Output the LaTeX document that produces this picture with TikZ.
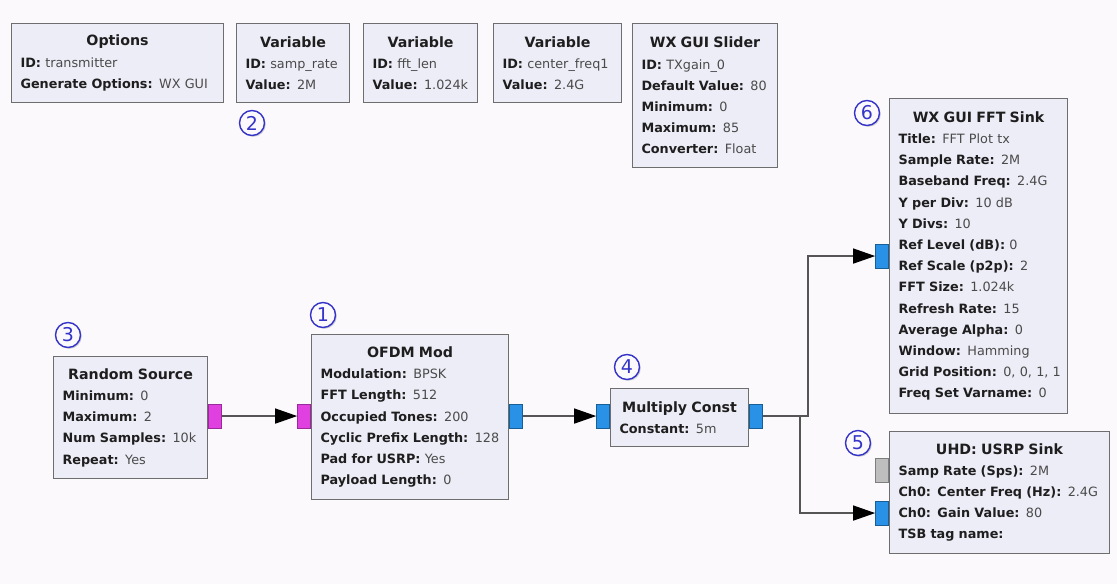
\documentclass[tikz,border=0pt]{standalone}
\usepackage{fontspec}
\setmainfont{DejaVu Sans}
\usetikzlibrary{arrows.meta,shadows}

\definecolor{canvas}{HTML}{FCF9FC}
\definecolor{blockfill}{HTML}{EDEDF8}
\definecolor{blockline}{HTML}{6E6E6E}
\definecolor{keyink}{HTML}{1E1E1E}
\definecolor{valink}{HTML}{4A4A4A}
\definecolor{wireink}{HTML}{555555}
\definecolor{bytefill}{HTML}{E040E0}
\definecolor{byteline}{HTML}{9A2A9A}
\definecolor{cplxfill}{HTML}{2A92E6}
\definecolor{cplxline}{HTML}{1A5E96}
\definecolor{msgfill}{HTML}{BEBEBE}
\definecolor{msgline}{HTML}{7E7E7E}
\definecolor{tagblue}{HTML}{3434C8}

% block title and key/value rows
\newcommand\blocktitle[1]{\makebox[\linewidth][c]{\fontsize{14.2}{21.2}\selectfont\bfseries\color{keyink}#1}}
\newcommand\param[2]{\mbox{{\bfseries\color{keyink}#1} {\color{valink}#2}}}

\tikzset{
  block/.style={draw=blockline, fill=blockfill, line width=1.1pt, anchor=north west,
    inner xsep=9pt, inner ysep=0pt, align=left, font=\fontsize{12.8}{21.2}\selectfont},
  port/.style={minimum width=13pt, minimum height=24pt, inner sep=0pt, line width=0.8pt},
  byteport/.style={port, fill=bytefill, draw=byteline},
  cplxport/.style={port, fill=cplxfill, draw=cplxline},
  msgport/.style={port, fill=msgfill, draw=msgline},
  wire/.style={draw=wireink, line width=1.3pt,
    -{Triangle[length=22pt,width=15pt,color=black]}},
  tag/.style={circle, draw=tagblue, line width=1.4pt, fill=canvas, text=tagblue,
    minimum size=25pt, inner sep=0pt, font=\fontsize{19}{19}\selectfont,
    drop shadow={shadow xshift=1.3pt, shadow yshift=-1.3pt, opacity=0.35, fill=gray}},
}

\begin{document}
\begin{tikzpicture}[x=1pt, y=-1pt]
\fill[canvas] (0,0) rectangle (1117,584);
\useasboundingbox (0,0) rectangle (1117,584);

% variable blocks along the top
\node[block, text width=194pt, minimum height=79pt] (opt) at (11,23)
  {\blocktitle{Options}\\ \param{ID:}{transmitter}\\ \param{Generate Options:}{WX GUI}};
\node[block, text width=95pt, minimum height=79pt] (vrate) at (236,23)
  {\blocktitle{Variable}\\ \param{ID:}{samp\_rate}\\ \param{Value:}{2M}};
\node[block, text width=96pt, minimum height=79pt] (vfft) at (363,23)
  {\blocktitle{Variable}\\ \param{ID:}{fft\_len}\\ \param{Value:}{1.024k}};
\node[block, text width=110pt, minimum height=79pt] (vfreq) at (493,23)
  {\blocktitle{Variable}\\ \param{ID:}{center\_freq1}\\ \param{Value:}{2.4G}};
\node[block, text width=127pt, minimum height=144pt] (slider) at (632,23)
  {\blocktitle{WX GUI Slider}\\ \param{ID:}{TXgain\_0}\\ \param{Default Value:}{80}\\
   \param{Minimum:}{0}\\ \param{Maximum:}{85}\\ \param{Converter:}{Float}};

% signal chain
\node[block, text width=136pt, minimum height=122pt] (rs) at (53,356)
  {\blocktitle{Random Source}\\ \param{Minimum:}{0}\\ \param{Maximum:}{2}\\
   \param{Num Samples:}{10k}\\ \param{Repeat:}{Yes}};
\node[block, text width=179pt, minimum height=165pt] (ofdm) at (311,334)
  {\blocktitle{OFDM Mod}\\ \param{Modulation:}{BPSK}\\ \param{FFT Length:}{512}\\
   \param{Occupied Tones:}{200}\\ \param{Cyclic Prefix Length:}{128}\\
   \param{Pad for USRP:}{Yes}\\ \param{Payload Length:}{0}};
\node[block, text width=120pt, minimum height=58pt] (mult) at (610,388)
  {\blocktitle{Multiply Const}\\ \param{Constant:}{5m}};
\node[block, text width=160pt, minimum height=315pt] (fft) at (889,98)
  {\blocktitle{WX GUI FFT Sink}\\ \param{Title:}{FFT Plot tx}\\ \param{Sample Rate:}{2M}\\
   \param{Baseband Freq:}{2.4G}\\ \param{Y per Div:}{10 dB}\\ \param{Y Divs:}{10}\\
   \param{Ref Level (dB):}{0}\\ \param{Ref Scale (p2p):}{2}\\ \param{FFT Size:}{1.024k}\\
   \param{Refresh Rate:}{15}\\ \param{Average Alpha:}{0}\\ \param{Window:}{Hamming}\\
   \param{Grid Position:}{0, 0, 1, 1}\\ \param{Freq Set Varname:}{0}};
\node[block, text width=202pt, minimum height=122pt] (usrp) at (889,431)
  {\blocktitle{UHD: USRP Sink}\\ \param{Samp Rate (Sps):}{2M}\\
   \param{Ch0: Center Freq (Hz):}{2.4G}\\ \param{Ch0: Gain Value:}{80}\\
   \param{TSB tag name:}{}};

% ports (the stream ports of the chain share one row)
\node[byteport, anchor=west] (rs-out) at ([yshift=1.5pt]rs.east) {};
\node[byteport, anchor=east] (ofdm-in) at (ofdm.west |- rs-out.east) {};
\node[cplxport, anchor=west] (ofdm-out) at (ofdm.east |- rs-out.east) {};
\node[cplxport, anchor=east] (mult-in) at (mult.west |- rs-out.east) {};
\node[cplxport, anchor=west] (mult-out) at (mult.east |- rs-out.east) {};
\node[cplxport, anchor=east] (fft-in) at (fft.west) {};
\node[msgport, anchor=east] (usrp-cmd) at ([yshift=22pt]usrp.west) {};
\node[cplxport, anchor=east] (usrp-in) at ([yshift=-20.5pt]usrp.west) {};

% connections
\path (mult-out.east) ++(45,0) coordinate (bendfft);
\path (mult-out.east) ++(37,0) coordinate (bendusrp);
\draw[wire] (rs-out.east) -- (ofdm-in.west);
\draw[wire] (ofdm-out.east) -- (mult-in.west);
\draw[wire] (mult-out.east) -- (bendfft) |- (fft-in.west);
\draw[wire] (mult-out.east) -- (bendusrp) |- (usrp-in.west);

% numbered markers
\node[tag] (n1) at (323,315) {1};
\node[tag] (n2) at (252,123) {2};
\node[tag] (n3) at (68,335) {3};
\node[tag] (n4) at (627,367) {4};
\node[tag] (n5) at (858,443) {5};
\node[tag] (n6) at (867,113) {6};
\end{tikzpicture}
\end{document}
